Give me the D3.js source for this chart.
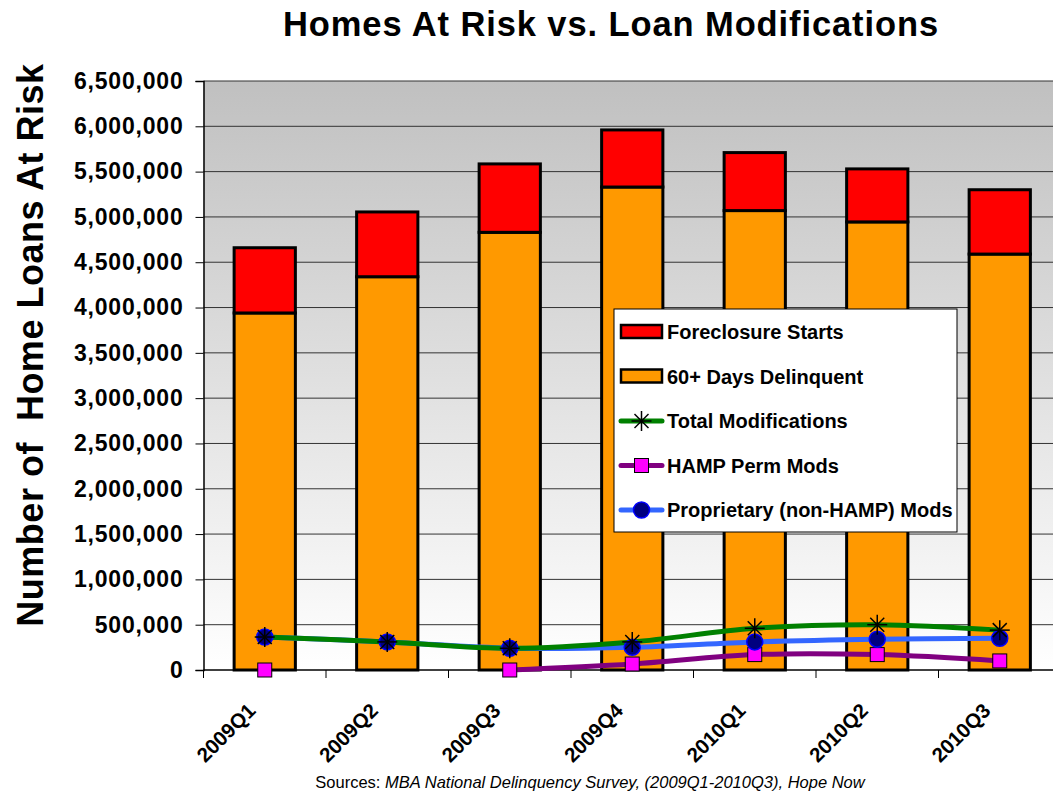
<!DOCTYPE html>
<html>
<head>
<meta charset="utf-8">
<script src="https://cdn.jsdelivr.net/npm/d3@7"></script>
<style>
    body { margin: 0; background: #fff; }
    text { font-family: Arial, "Liberation Sans", sans-serif; }
</style>
</head>
<body>
<div id="chart"></div>
<script>
// Chart data
const quarters = ['2009Q1', '2009Q2', '2009Q3', '2009Q4', '2010Q1', '2010Q2', '2010Q3'];
const delinquent60 = [3940000, 4340000, 4830000, 5330000, 5070000, 4945000, 4590000];
const foreclosureStarts = [720000, 715000, 755000, 630000, 640000, 585000, 710000];
const totalMods = [364000, 310000, 240000, 310000, 460000, 500000, 440000];
const hampPermMods = [0, null, 0, 66000, 170000, 170000, 100000];
const proprietaryMods = [364000, 310000, 240000, 250000, 310000, 340000, 350000];
const yTicks = d3.range(0, 6500001, 500000);

const width = 1053;
const height = 791;
const plot = { left: 203.5, right: 1061, top: 81, bottom: 670 };

const svg = d3.select('#chart').append('svg')
    .attr('width', width)
    .attr('height', height);

// Background gradient for the plot area
const defs = svg.append('defs');
const grad = defs.append('linearGradient')
    .attr('id', 'plotBg')
    .attr('x1', 0).attr('y1', 0).attr('x2', 0).attr('y2', 1);
grad.append('stop').attr('offset', '0%').attr('stop-color', '#c0c0c0');
grad.append('stop').attr('offset', '100%').attr('stop-color', '#ffffff');

// Scales
const x = d3.scaleBand()
    .domain(quarters)
    .range([plot.left, plot.right])
    .padding(0);

const y = d3.scaleLinear()
    .domain([0, 6500000])
    .range([plot.bottom, plot.top]);

svg.append('rect')
    .attr('x', plot.left)
    .attr('y', plot.top)
    .attr('width', plot.right - plot.left)
    .attr('height', plot.bottom - plot.top)
    .attr('fill', 'url(#plotBg)');

// Grid lines
svg.append('g')
    .selectAll('line')
    .data(yTicks.filter(d => d > 0))
    .enter()
    .append('line')
    .attr('x1', plot.left)
    .attr('x2', plot.right)
    .attr('y1', d => y(d))
    .attr('y2', d => y(d))
    .attr('stroke', '#333')
    .attr('stroke-width', 1);

// Y axis
const yAxis = svg.append('g')
    .attr('transform', `translate(${plot.left},0)`)
    .call(d3.axisLeft(y)
        .tickValues(yTicks)
        .tickFormat(d3.format(','))
        .tickSize(8)
        .tickPadding(12));
yAxis.select('.domain').attr('stroke', '#000').attr('stroke-width', 1.5);
yAxis.selectAll('.tick line').attr('stroke', '#000');
yAxis.selectAll('.tick text')
    .attr('font-size', '23px')
    .attr('font-weight', 'bold')
    .attr('letter-spacing', '0.8px')
    .attr('fill', '#000');

// X axis line and ticks at band boundaries
svg.append('line')
    .attr('x1', plot.left).attr('x2', plot.right)
    .attr('y1', plot.bottom).attr('y2', plot.bottom)
    .attr('stroke', '#000').attr('stroke-width', 1.5);

svg.append('g')
    .selectAll('line')
    .data(d3.range(quarters.length + 1))
    .enter()
    .append('line')
    .attr('x1', i => plot.left + i * x.step())
    .attr('x2', i => plot.left + i * x.step())
    .attr('y1', plot.bottom)
    .attr('y2', plot.bottom + 8)
    .attr('stroke', '#000');

svg.append('g')
    .selectAll('text')
    .data(quarters)
    .enter()
    .append('text')
    .attr('transform', d => `translate(${x(d) + x.bandwidth() / 2 - 8},${plot.bottom + 42}) rotate(-45)`)
    .attr('text-anchor', 'end')
    .attr('font-size', '20.5px')
    .attr('font-weight', 'bold')
    .text(d => d);

// Stacked bars
const barW = x.bandwidth() * 0.5;
const barX = d => x(d) + (x.bandwidth() - barW) / 2;

svg.append('g')
    .selectAll('rect')
    .data(quarters)
    .enter()
    .append('rect')
    .attr('x', d => barX(d))
    .attr('y', (d, i) => y(delinquent60[i]))
    .attr('width', barW)
    .attr('height', (d, i) => y(0) - y(delinquent60[i]))
    .attr('fill', '#ff9900')
    .attr('stroke', '#000')
    .attr('stroke-width', 3);

svg.append('g')
    .selectAll('rect')
    .data(quarters)
    .enter()
    .append('rect')
    .attr('x', d => barX(d))
    .attr('y', (d, i) => y(delinquent60[i] + foreclosureStarts[i]))
    .attr('width', barW)
    .attr('height', (d, i) => y(delinquent60[i]) - y(delinquent60[i] + foreclosureStarts[i]))
    .attr('fill', '#ff0000')
    .attr('stroke', '#000')
    .attr('stroke-width', 3);

// Lines
const cx = d => x(d) + x.bandwidth() / 2;
const lineGen = values => d3.line()
    .defined((d, i) => values[i] != null)
    .x(d => cx(d))
    .y((d, i) => y(values[i]))
    .curve(d3.curveCatmullRom.alpha(0.5));

const series = [
    { values: proprietaryMods, color: '#3366ff' },
    { values: hampPermMods, color: '#800080' },
    { values: totalMods, color: '#008000' }
];

series.forEach(s => {
    svg.append('path')
        .datum(quarters)
        .attr('d', lineGen(s.values))
        .attr('fill', 'none')
        .attr('stroke', s.color)
        .attr('stroke-width', 5);
});

// Markers
function drawSquare(g, px, py) {
    g.append('rect')
        .attr('x', px - 7).attr('y', py - 7)
        .attr('width', 14).attr('height', 14)
        .attr('fill', '#ff00ff')
        .attr('stroke', '#000')
        .attr('stroke-width', 1);
}

function drawCircle(g, px, py) {
    g.append('circle')
        .attr('cx', px).attr('cy', py)
        .attr('r', 8)
        .attr('fill', '#000080')
        .attr('stroke', '#0000ff')
        .attr('stroke-width', 1.5);
}

function drawStar(g, px, py) {
    const r = 10;
    const star = g.append('g').attr('stroke', '#000').attr('stroke-width', 1.5);
    star.append('line').attr('x1', px - r).attr('x2', px + r).attr('y1', py).attr('y2', py);
    star.append('line').attr('x1', px - r * 0.7).attr('x2', px + r * 0.7).attr('y1', py - r * 0.7).attr('y2', py + r * 0.7);
    star.append('line').attr('x1', px - r * 0.7).attr('x2', px + r * 0.7).attr('y1', py + r * 0.7).attr('y2', py - r * 0.7);
    star.append('line').attr('x1', px).attr('x2', px).attr('y1', py - r).attr('y2', py + r);
}

const markers = svg.append('g');
quarters.forEach((q, i) => {
    if (hampPermMods[i] != null) drawSquare(markers, cx(q), y(hampPermMods[i]));
});
quarters.forEach((q, i) => drawCircle(markers, cx(q), y(proprietaryMods[i])));
quarters.forEach((q, i) => drawStar(markers, cx(q), y(totalMods[i])));

// Legend
const legend = svg.append('g');
legend.append('rect')
    .attr('x', 614).attr('y', 309)
    .attr('width', 343).attr('height', 223)
    .attr('fill', '#fff')
    .attr('stroke', '#000')
    .attr('stroke-width', 1);

const legendItems = [
    { label: 'Foreclosure Starts', type: 'bar', color: '#ff0000' },
    { label: '60+ Days Delinquent', type: 'bar', color: '#ff9900' },
    { label: 'Total Modifications', type: 'line', color: '#008000', marker: drawStar },
    { label: 'HAMP Perm Mods', type: 'line', color: '#800080', marker: drawSquare },
    { label: 'Proprietary (non-HAMP) Mods', type: 'line', color: '#3366ff', marker: drawCircle }
];

legendItems.forEach((item, i) => {
    const ly = 332 + i * 44.5;
    if (item.type === 'bar') {
        legend.append('rect')
            .attr('x', 621).attr('y', ly - 7)
            .attr('width', 41).attr('height', 13)
            .attr('fill', item.color)
            .attr('stroke', '#000')
            .attr('stroke-width', 2.5);
    } else {
        legend.append('line')
            .attr('x1', 621).attr('x2', 662)
            .attr('y1', ly).attr('y2', ly)
            .attr('stroke', item.color)
            .attr('stroke-width', 5)
            .attr('stroke-linecap', 'round');
        item.marker(legend, 641.5, ly);
    }
    legend.append('text')
        .attr('x', 667)
        .attr('y', ly + 7)
        .attr('font-size', '20px')
        .attr('font-weight', 'bold')
        .text(item.label);
});

// Title
svg.append('text')
    .attr('x', 611)
    .attr('y', 36)
    .attr('text-anchor', 'middle')
    .attr('font-size', '34.5px')
    .attr('font-weight', 'bold')
    .attr('letter-spacing', '0.9px')
    .text('Homes At Risk vs. Loan Modifications');

// Y axis title
svg.append('text')
    .attr('transform', 'translate(43,345) rotate(-90)')
    .attr('text-anchor', 'middle')
    .attr('font-size', '36px')
    .attr('font-weight', 'bold')
    .attr('letter-spacing', '0.5px')
    .style('white-space', 'pre')
    .text('Number of  Home Loans At Risk');

// Source note
const src = svg.append('text')
    .attr('x', 590)
    .attr('y', 788)
    .attr('text-anchor', 'middle')
    .attr('font-size', '16.5px');
src.append('tspan').text('Sources: ');
src.append('tspan').attr('font-style', 'italic').text('MBA National Delinquency Survey, (2009Q1-2010Q3), Hope Now');
</script>
</body>
</html>
